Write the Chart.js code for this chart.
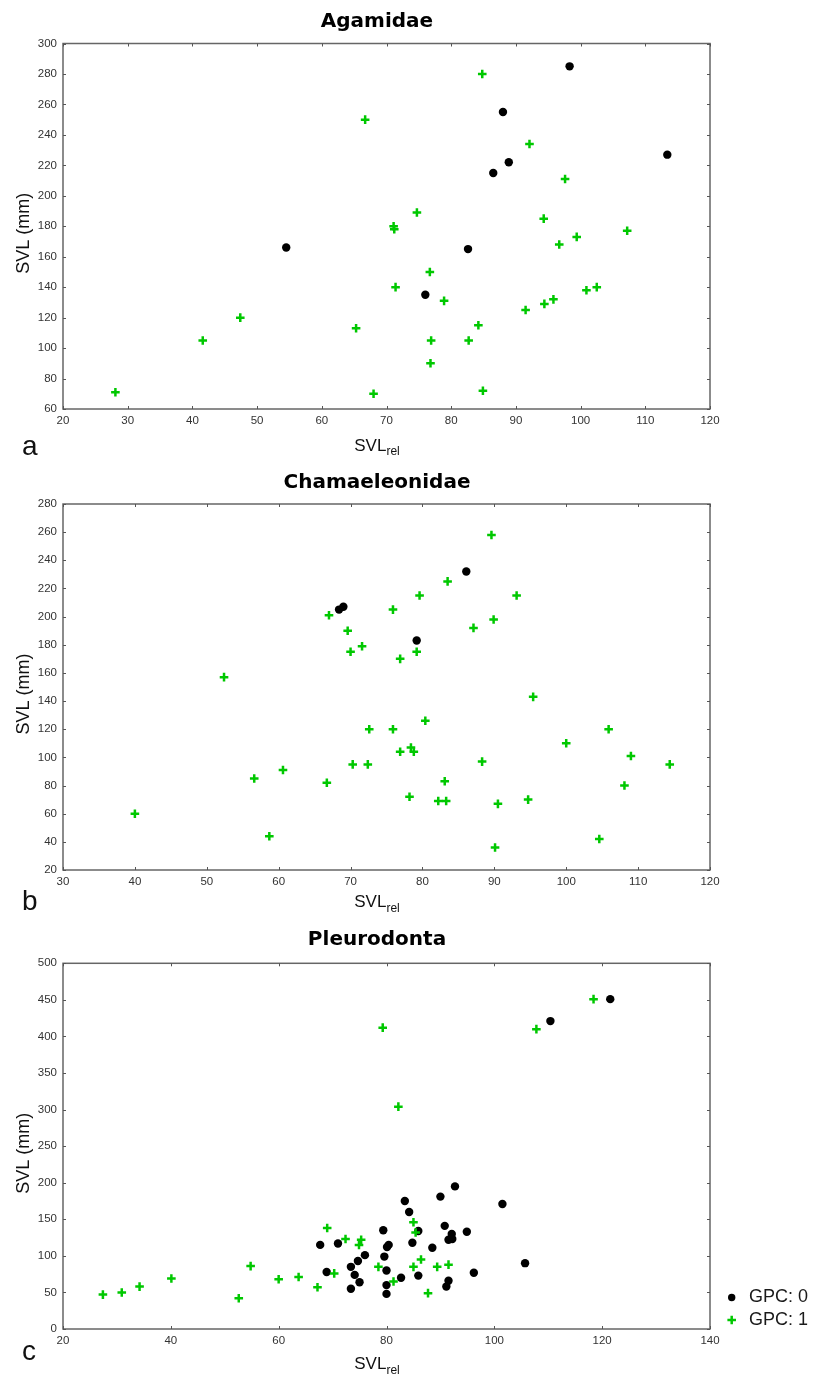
<!DOCTYPE html>
<html>
<head>
<meta charset="utf-8">
<script src="https://cdn.jsdelivr.net/npm/chart.js@4.4.1/dist/chart.umd.min.js"></script>
<style>
  html, body { margin: 0; padding: 0; background: #fff; }
  body { width: 813px; height: 1374px; position: relative; overflow: hidden; }
  .panel { position: absolute; left: 0; width: 813px; }
  canvas { display: block; }
</style>
</head>
<body>
<div class="panel" style="top:0px;height:460px"><canvas id="cA" width="813" height="460"></canvas></div>
<div class="panel" style="top:460px;height:460px"><canvas id="cB" width="813" height="460"></canvas></div>
<div class="panel" style="top:920px;height:454px"><canvas id="cC" width="813" height="454"></canvas></div>
<script>
// ---------- DATA ----------
// Panel a: Agamidae
const agaGpc0X = [54.5, 76.0, 82.6, 86.5, 88.0, 88.9, 98.3, 113.4];
const agaGpc0Y = [166, 135, 165, 215, 255, 222, 285, 227];
const agaGpc1X = [28.1, 41.6, 47.4, 65.3, 66.7, 68.0, 71.1, 71.2, 71.4, 74.7, 76.7, 76.9, 76.8, 78.9, 82.7, 84.2, 84.8, 84.9, 91.5, 92.1, 94.3, 94.4, 95.8, 96.7, 97.6, 99.4, 100.9, 102.5, 107.2];
const agaGpc1Y = [71, 105, 120, 113, 250, 70, 180, 178, 140, 189, 150, 105, 90, 131, 105, 115, 280, 72, 125, 234, 185, 129, 132, 168, 211, 173, 138, 140, 177];

// Panel b: Chamaeleonidae
const chaGpc0X = [68.4, 69.0, 79.2, 86.1];
const chaGpc0Y = [205, 207, 183, 232];
const chaGpc1X = [40.0, 52.4, 56.6, 58.7, 60.6, 66.7, 67.0, 69.6, 70.0, 70.3, 71.6, 72.4, 72.6, 75.9, 75.9, 76.9, 76.9, 78.2, 78.4, 78.8, 79.2, 79.6, 80.4, 82.2, 83.1, 83.3, 83.5, 87.1, 88.3, 89.6, 89.9, 90.1, 90.5, 93.1, 94.7, 95.4, 100.0, 104.6, 105.9, 108.1, 109.0, 114.4];
const chaGpc1Y = [60, 157, 85, 44, 91, 82, 201, 190, 175, 95, 179, 95, 120, 205, 120, 170, 104, 72, 107, 104, 175, 215, 126, 69, 83, 69, 225, 192, 97, 258, 198, 36, 67, 215, 70, 143, 110, 42, 120, 80, 101, 95];

// Panel c: Pleurodonta
const pleGpc0X = [67.7, 68.9, 71.0, 73.4, 73.4, 74.1, 74.7, 75.0, 76.0, 79.4, 79.6, 80.0, 80.0, 80.0, 80.1, 80.4, 82.7, 83.4, 84.2, 84.8, 85.9, 85.9, 88.5, 90.0, 90.8, 91.5, 91.1, 92.1, 92.2, 91.5, 92.7, 94.9, 96.2, 101.5, 105.7, 110.4, 121.5];
const pleGpc0Y = [115, 78, 117, 55, 85, 74, 93, 64, 101, 135, 99, 80, 60, 48, 112, 115, 70, 175, 160, 118, 134, 73, 111, 181, 141, 66, 58, 130, 123, 122, 195, 133, 77, 171, 90, 421, 451];
const pleGpc1X = [27.4, 30.9, 34.2, 40.1, 52.6, 54.8, 60.0, 63.7, 67.2, 69.0, 70.3, 72.4, 74.9, 75.3, 78.5, 79.3, 81.3, 82.2, 85.0, 85.4, 85.0, 86.4, 87.7, 89.4, 91.5, 107.8, 118.4];
const pleGpc1Y = [47, 50, 58, 69, 42, 86, 68, 71, 57, 138, 76, 123, 115, 122, 85, 412, 65, 304, 146, 132, 85, 95, 49, 85, 88, 410, 451];

// Axis ranges / tick steps
const axisA = { xMin: 20, xMax: 120, xStep: 10, yMin: 60, yMax: 300, yStep: 20 };
const axisB = { xMin: 30, xMax: 120, xStep: 10, yMin: 20, yMax: 280, yStep: 20 };
const axisC = { xMin: 20, xMax: 140, xStep: 20, yMin: 0, yMax: 500, yStep: 50 };

// Text
const titles = ['Agamidae', 'Chamaeleonidae', 'Pleurodonta'];
const letters = ['a', 'b', 'c'];
const legendLabels = ['GPC: 0', 'GPC: 1'];

// ---------- STYLE ----------
const FONT = "'Liberation Sans', Arial, Helvetica, sans-serif";
const TITLE_FONT = "'DejaVu Sans', 'Liberation Sans', Arial, sans-serif";
const GREEN = '#00c800';
const BLACK = '#000000';

function pts(xs, ys) { return xs.map((x, i) => ({ x: x, y: ys[i] })); }

const framePlugin = {
  id: 'frameText',
  afterDraw(chart, args, o) {
    const ctx = chart.ctx, ca = chart.chartArea;
    const xs = chart.scales.x, ys = chart.scales.y;
    ctx.save();
    // frame
    ctx.strokeStyle = '#666';
    ctx.lineWidth = 1.5;
    ctx.strokeRect(ca.left, ca.top, ca.right - ca.left, ca.bottom - ca.top);
    // inward ticks on all four sides
    ctx.lineWidth = 1;
    ctx.strokeStyle = '#555';
    ctx.beginPath();
    xs.ticks.forEach(t => {
      const px = Math.round(xs.getPixelForValue(t.value)) + 0.5;
      ctx.moveTo(px, ca.top); ctx.lineTo(px, ca.top + 3);
      ctx.moveTo(px, ca.bottom); ctx.lineTo(px, ca.bottom - 3);
    });
    ys.ticks.forEach(t => {
      const py = Math.round(ys.getPixelForValue(t.value)) + 0.5;
      ctx.moveTo(ca.left, py); ctx.lineTo(ca.left + 3, py);
      ctx.moveTo(ca.right, py); ctx.lineTo(ca.right - 3, py);
    });
    ctx.stroke();

    // title
    ctx.fillStyle = '#000';
    ctx.textAlign = 'center';
    ctx.textBaseline = 'alphabetic';
    ctx.font = `bold 20px ${TITLE_FONT}`;
    ctx.fillText(o.title, o.cx, o.titleY);

    // y title
    ctx.save();
    ctx.translate(o.yTitleX, (ca.top + ca.bottom) / 2 + 7);
    ctx.rotate(-Math.PI / 2);
    ctx.font = `18px ${FONT}`;
    ctx.textBaseline = 'middle';
    ctx.fillStyle = '#111';
    ctx.fillText('SVL (mm)', 0, 0);
    ctx.restore();

    // x title with subscript
    ctx.fillStyle = '#111';
    ctx.textAlign = 'left';
    ctx.font = `17px ${FONT}`;
    const w1 = ctx.measureText('SVL').width;
    ctx.font = `12px ${FONT}`;
    const w2 = ctx.measureText('rel').width;
    const sx = o.cx - (w1 + w2) / 2;
    ctx.font = `17px ${FONT}`;
    ctx.fillText('SVL', sx, o.xTitleY);
    ctx.font = `12px ${FONT}`;
    ctx.fillText('rel', sx + w1, o.xTitleY + 4.5);

    // panel letter
    ctx.font = `28px ${FONT}`;
    ctx.fillStyle = '#111';
    ctx.fillText(o.letter, 22, o.letterY);

    // legend
    if (o.legend) {
      const lg = o.legend;
      ctx.fillStyle = BLACK;
      ctx.beginPath();
      ctx.arc(lg.x, lg.y0, 3.7, 0, Math.PI * 2);
      ctx.fill();
      ctx.strokeStyle = GREEN;
      ctx.lineWidth = 2.5;
      ctx.beginPath();
      ctx.moveTo(lg.x - 4.3, lg.y1); ctx.lineTo(lg.x + 4.3, lg.y1);
      ctx.moveTo(lg.x, lg.y1 - 4.3); ctx.lineTo(lg.x, lg.y1 + 4.3);
      ctx.stroke();
      ctx.fillStyle = '#1a1a1a';
      ctx.font = `18px ${FONT}`;
      ctx.textBaseline = 'middle';
      ctx.textAlign = 'left';
      ctx.fillText(lg.labels[0], lg.tx, lg.y0);
      ctx.fillText(lg.labels[1], lg.tx, lg.y1);
    }
    ctx.restore();
  }
};

function makeChart(id, ax, g0x, g0y, g1x, g1y, padTop, xAxisH, text) {
  return new Chart(document.getElementById(id), {
    type: 'scatter',
    data: {
      datasets: [
        {
          label: legendLabels[1],
          data: pts(g1x, g1y),
          pointStyle: 'cross',
          pointRadius: 4.3,
          pointHoverRadius: 4.3,
          borderColor: GREEN,
          backgroundColor: GREEN,
          pointBorderWidth: 2.5,
          borderWidth: 2.5
        },
        {
          label: legendLabels[0],
          data: pts(g0x, g0y),
          pointStyle: 'circle',
          pointRadius: 4.2,
          pointHoverRadius: 4.2,
          borderColor: BLACK,
          backgroundColor: BLACK,
          pointBorderWidth: 0,
          borderWidth: 0
        }
      ]
    },
    options: {
      responsive: false,
      animation: false,
      devicePixelRatio: 1,
      events: [],
      layout: { padding: { top: padTop, right: 103, left: 0, bottom: 0 } },
      plugins: {
        legend: { display: false },
        tooltip: { enabled: false },
        title: { display: false },
        frameText: text
      },
      scales: {
        x: {
          type: 'linear',
          min: ax.xMin, max: ax.xMax,
          afterFit: s => { s.height = xAxisH; },
          grid: { display: false, drawTicks: false },
          border: { display: false },
          ticks: {
            stepSize: ax.xStep,
            padding: 5,
            color: '#333',
            font: { family: FONT, size: 11.5 },
            maxRotation: 0,
            autoSkip: false
          }
        },
        y: {
          type: 'linear',
          min: ax.yMin, max: ax.yMax,
          afterFit: s => { s.width = 63; },
          grid: { display: false, drawTicks: false },
          border: { display: false },
          ticks: {
            stepSize: ax.yStep,
            padding: 6,
            color: '#333',
            font: { family: FONT, size: 11.5 },
            autoSkip: false
          }
        }
      }
    },
    plugins: [framePlugin]
  });
}

makeChart('cA', axisA, agaGpc0X, agaGpc0Y, agaGpc1X, agaGpc1Y, 43.5, 51,
  { title: titles[0], cx: 377, titleY: 27, yTitleX: 24, xTitleY: 450.5, letter: letters[0], letterY: 455 });

makeChart('cB', axisB, chaGpc0X, chaGpc0Y, chaGpc1X, chaGpc1Y, 44, 50,
  { title: titles[1], cx: 377, titleY: 28, yTitleX: 24, xTitleY: 447, letter: letters[1], letterY: 450 });

makeChart('cC', axisC, pleGpc0X, pleGpc0Y, pleGpc1X, pleGpc1Y, 43.3, 45,
  { title: titles[2], cx: 377, titleY: 25, yTitleX: 24, xTitleY: 449, letter: letters[2], letterY: 440,
    legend: { x: 731.7, y0: 377.5, y1: 400, tx: 749, labels: legendLabels } });
</script>
</body>
</html>
